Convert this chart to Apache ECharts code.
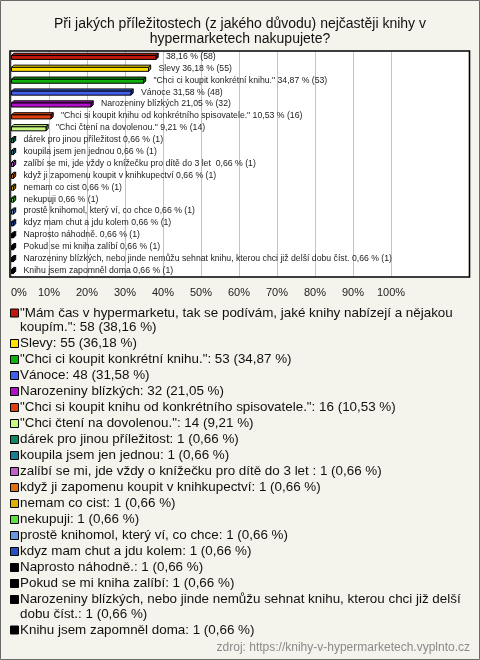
<!DOCTYPE html>
<html>
<head>
<meta charset="utf-8">
<script src="https://cdn.jsdelivr.net/npm/echarts@6/dist/echarts.min.js"></script>
<style>
html,body{margin:0;padding:0;background:#f4f3ec;}
#chart{width:480px;height:660px;}
</style>
</head>
<body>
<div id="chart"></div>
<script>
const titleText = 'Při jakých příležitostech (z jakého důvodu) nejčastěji knihy v\nhypermarketech nakupujete?';
const categories = [
  '"Mám čas v hypermarketu, tak se podívám, jaké knihy nabízejí a nějakou koupím."',
  'Slevy',
  '"Chci ci koupit konkrétní knihu."',
  'Vánoce',
  'Narozeniny blízkých',
  '"Chci si koupit knihu od konkrétního spisovatele."',
  '"Chci čtení na dovolenou."',
  'dárek pro jinou příležitost',
  'koupila jsem jen jednou',
  'zalíbí se mi, jde vždy o knížečku pro dítě do 3 let ',
  'když ji zapomenu koupit v knihkupectví',
  'nemam co cist',
  'nekupuji',
  'prostě knihomol, který ví, co chce',
  'kdyz mam chut a jdu kolem',
  'Naprosto náhodně.',
  'Pokud se mi kniha zalíbí',
  'Narozeniny blízkých, nebo jinde nemůžu sehnat knihu, kterou chci již delší dobu číst.',
  'Knihu jsem zapomněl doma'
];
const counts = [58, 55, 53, 48, 32, 16, 14, 1, 1, 1, 1, 1, 1, 1, 1, 1, 1, 1, 1];
const percents = [38.16, 36.18, 34.87, 31.58, 21.05, 10.53, 9.21, 0.66, 0.66, 0.66, 0.66, 0.66, 0.66, 0.66, 0.66, 0.66, 0.66, 0.66, 0.66];
const xTicks = [0, 10, 20, 30, 40, 50, 60, 70, 80, 90, 100];
const sourceText = 'zdroj: https://knihy-v-hypermarketech.vyplnto.cz';

const palette = ['#c0180c','#ffe000','#10b010','#4060f0','#b010c8','#e04010','#c8f880',
  '#108860','#188090','#c060c8','#e07010','#e0b000','#60e040','#6898e0','#2850c0',
  '#000000','#000000','#000000','#000000'];

function fmt(p){ return p.toFixed(2).replace('.', ','); }
function shade(hex, f){
  const n = parseInt(hex.slice(1),16);
  const r = Math.round(((n>>16)&255)*f), g = Math.round(((n>>8)&255)*f), b = Math.round((n&255)*f);
  return 'rgb('+r+','+g+','+b+')';
}

const chart = echarts.init(document.getElementById('chart'), null, {renderer:'canvas'});

const measure = document.createElement('canvas').getContext('2d');
const legendFont = '13.4px Arial';
measure.font = legendFont;
const wrapW = 462;
function wrap(txt){
  const words = txt.split(' ');
  const out = [];
  let cur = '';
  words.forEach((w, k) => {
    const cand = k === 0 ? w : cur + ' ' + w;
    if (k > 0 && measure.measureText(cand).width > wrapW) { out.push(cur); cur = w; }
    else cur = cand;
  });
  out.push(cur);
  return out;
}
const graphics = [];
graphics.push({type:'rect', z:-20, shape:{x:0.5,y:0.5,width:479,height:659}, style:{fill:'#f4f3ec', stroke:'#6a6a6a', lineWidth:1}});
graphics.push({type:'rect', z:-10, shape:{x:10,y:51,width:459.5,height:226}, style:{fill:'#ffffff'}});
graphics.push({type:'rect', z:50, shape:{x:10,y:51,width:459.5,height:226}, style:{fill:null, stroke:'#000', lineWidth:1.6}});
let cy = 313.5;
categories.forEach((name, i) => {
  const lines = wrap(name + ': ' + counts[i] + ' (' + fmt(percents[i]) + ' %)');
  graphics.push({type:'rect', shape:{x:10.5,y:cy-4.5,width:8,height:8}, style:{fill:palette[i], stroke:'#000', lineWidth:1}});
  graphics.push({type:'text', style:{x:20, y:cy-7.5, text:lines.join('\n'), font:legendFont, fill:'#111', lineHeight:14.5, verticalAlign:'top'}});
  cy += 16 + (lines.length-1)*14.5;
});
graphics.push({type:'text', style:{x:470, y:648, text:sourceText, font:'12px Arial', fill:'#8a8a8a', align:'right', verticalAlign:'middle'}});

const option = {
  backgroundColor:'#f4f3ec',
  animation:false,
  title:{text:titleText, left:'center', top:12, textStyle:{fontSize:14, fontWeight:'normal', color:'#111', fontFamily:'Arial', lineHeight:15}},
  grid:{left:11, right:89, top:51, height:226},
  xAxis:{type:'value', min:0, max:100, interval:10,
    axisLine:{show:false}, axisTick:{show:false},
    splitLine:{show:true, lineStyle:{color:'#c4c4c4', width:1}},
    axisLabel:{formatter: v => xTicks.indexOf(v) >= 0 ? v + '%' : '', color:'#222', fontSize:11, fontFamily:'Arial', margin:10, alignMinLabel:'left'}},
  yAxis:{type:'category', data:categories, inverse:true, show:false},
  graphic: graphics,
  series:[{
    type:'custom',
    clip:false,
    encode:{x:0, y:1},
    data: percents.map((p,i) => [p, i]),
    renderItem(params, api){
      const i = params.dataIndex;
      const val = api.value(0);
      const p0 = api.coord([0, api.value(1)]);
      const p1 = api.coord([val, api.value(1)]);
      const yc = p0[1];
      const x0 = p0[0] + 0.5, x1 = Math.max(p1[0], x0 + 1.5);
      const top = yc - 1.5, h = 4, d = 2.2;
      const col = palette[i];
      const name = categories[i];
      const label = (i === 0 ? '' : name + ' ') + fmt(percents[i]) + ' % (' + counts[i] + ')';
      return {type:'group', children:[
        {type:'polygon', shape:{points:[[x0,top],[x1,top],[x1+d,top-d],[x0+d,top-d]]}, style:{fill:col, stroke:'#000', lineWidth:1}},
        {type:'polygon', shape:{points:[[x1,top],[x1+d,top-d],[x1+d,top+h-d],[x1,top+h]]}, style:{fill:shade(col,0.6), stroke:'#000', lineWidth:1}},
        {type:'rect', shape:{x:x0, y:top, width:x1-x0, height:h}, style:{fill:col, stroke:'#000', lineWidth:1}},
        {type:'text', style:{x:x1+10, y:yc-0.5, text:label, font:'8.7px Arial', fill:'#222', verticalAlign:'middle'}}
      ]};
    }
  }]
};
chart.setOption(option);
</script>
</body>
</html>
